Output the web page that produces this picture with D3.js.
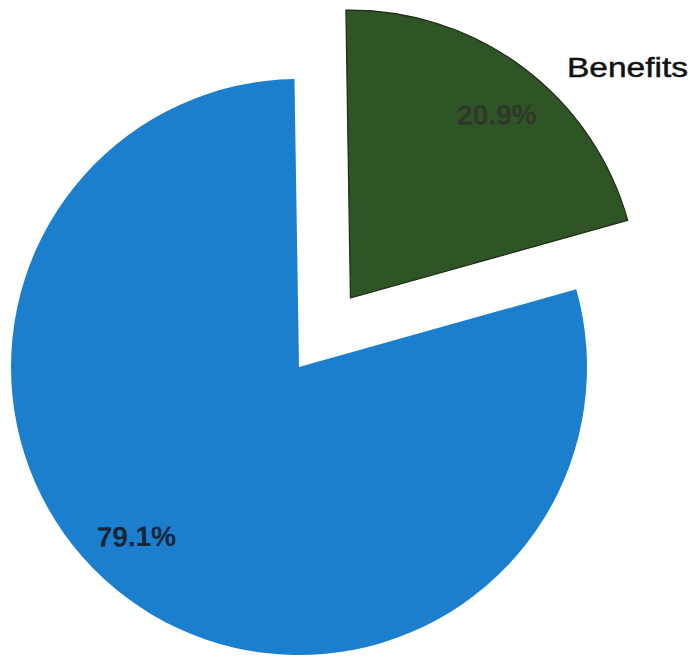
<!DOCTYPE html>
<html><head><meta charset="utf-8">
<script src="https://cdn.jsdelivr.net/npm/d3@7"></script>
<style>html,body{margin:0;padding:0;background:#fff;}svg{display:block;}</style>
</head><body>
<script>
const categories = ["Benefits", "Other"];
const values = [20.9, 79.1];
const pctLabels = ["20.9%", "79.1%"];
const colors = ["#2f5426", "#1b7fce"];

const W = 691, H = 658;
const cx = 299, cy = 367, R = 288, explode = 86;
const svg = d3.select("body").append("svg").attr("width", W).attr("height", H);
const g = svg.append("g").attr("transform", `translate(${cx},${cy}) rotate(-0.9)`);

const pie = d3.pie().sort(null).value(d => d)(values);
const arc = d3.arc().innerRadius(0).outerRadius(R);
const labelR = R * 0.815, labelFrac = 0.525;

const slices = g.selectAll("g.slice").data(pie).join("g")
  .attr("transform", (d, i) => {
    if (i !== 0) return null;
    const a = (d.startAngle + d.endAngle) / 2;
    return `translate(${explode * Math.sin(a)},${-explode * Math.cos(a)})`;
  });

slices.append("path").attr("d", arc)
  .attr("fill", (d, i) => colors[i])
  .attr("stroke", (d, i) => i === 0 ? "#1c2a14" : "none")
  .attr("stroke-width", 1.2);

slices.append("text")
  .attr("transform", d => {
    const a = d.startAngle + (d.endAngle - d.startAngle) * labelFrac;
    return `translate(${labelR * Math.sin(a)},${-labelR * Math.cos(a)})`;
  })
  .attr("text-anchor", "middle").attr("dy", "0.35em")
  .attr("font-family", "Liberation Sans, Arial, sans-serif").attr("font-weight", "bold")
  .attr("font-size", 28)
  .attr("fill", (d, i) => i === 0 ? "#2d3826" : "#14253a")
  .text((d, i) => pctLabels[i]);

svg.append("text").attr("x", 567).attr("y", 77)
  .attr("font-family", "Liberation Sans, Arial, sans-serif")
  .attr("font-size", 28).attr("fill", "#111")
  .attr("stroke", "#111").attr("stroke-width", 0.5)
  .attr("textLength", 121).attr("lengthAdjust", "spacingAndGlyphs")
  .text(categories[0]);
</script>
</body></html>
